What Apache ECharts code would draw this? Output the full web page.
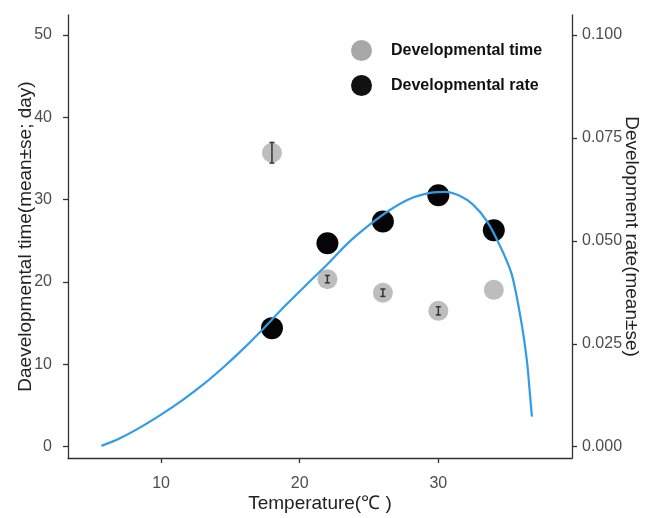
<!DOCTYPE html>
<html>
<head>
<meta charset="utf-8">
<script src="https://cdn.jsdelivr.net/npm/echarts@6/dist/echarts.min.js"></script>
<style>html,body{margin:0;padding:0;background:#fff}#c{width:655px;height:518px}</style>
</head>
<body>
<div id="c"></div>
<script>
// Data
var temps = [18, 22, 26, 30, 34];
var devTime = [35.7, 20.35, 18.7, 16.5, 19.05];   // days
var devTimeSE = [1.25, 0.45, 0.45, 0.5, 0];
var devRate = [0.0288, 0.0494, 0.0547, 0.0611, 0.0526];
var curveT = [5.7, 7.0, 8.5, 10.0, 11.5, 13.0, 14.5, 16.0, 17.5, 19.0, 20.5, 22.0, 23.5, 25.0, 26.5, 28.0, 29.5, 30.5, 31.5, 32.5, 33.5, 34.5, 35.3, 36.0, 36.4, 36.6, 36.75];
var curveR = [0.0002, 0.0020, 0.0047, 0.0078, 0.0112, 0.0150, 0.0193, 0.0240, 0.0291, 0.0344, 0.0394, 0.0443, 0.0495, 0.0538, 0.0575, 0.0603, 0.0617, 0.0619, 0.0610, 0.0588, 0.0548, 0.0484, 0.0418, 0.0300, 0.0205, 0.0130, 0.0073];
var xTicks = [10, 20, 30];
var yLeftTicks = [0, 10, 20, 30, 40, 50];
var yRightTicks = [0, 0.025, 0.05, 0.075, 0.1];

var chart = echarts.init(document.getElementById('c'), null, {renderer: 'canvas'});
var axisLineStyle = {color: '#333', width: 1.3};
var tickLabel = {color: '#4d4d4d', fontSize: 16, fontFamily: 'Liberation Sans, Arial, sans-serif'};
var nameStyle = {color: '#222', fontSize: 19, fontFamily: 'Liberation Sans, Arial, sans-serif'};

var errData = temps.map(function (t, i) { return [t, devTime[i], devTimeSE[i]]; });

chart.setOption({
  animation: false,
  backgroundColor: '#fff',
  grid: {left: 68, right: 83, top: 15, bottom: 60, containLabel: false},
  legend: {
    orient: 'vertical', left: 351, top: 40, padding: 0, itemWidth: 21, itemHeight: 21, itemGap: 14,
    data: [
      {name: 'Developmental time', icon: 'circle', itemStyle: {color: '#a8a8a8', opacity: 1}},
      {name: 'Developmental rate', icon: 'circle', itemStyle: {color: '#111', opacity: 1}}
    ],
    textStyle: {color: '#111', fontSize: 16, fontWeight: 'bold', fontFamily: 'Liberation Sans, Arial, sans-serif', padding: [0, 0, 0, 14]}
  },
  xAxis: {
    type: 'value', min: 3.29, max: 39.64,
    name: 'Temperature(℃ )', nameLocation: 'middle', nameGap: 36, nameMoveOverlap: false, nameTextStyle: nameStyle,
    axisLine: {show: true, onZero: false, lineStyle: axisLineStyle},
    axisTick: {show: true, customValues: xTicks, length: 5, lineStyle: axisLineStyle},
    axisLabel: {customValues: xTicks, margin: 18, ...tickLabel},
    splitLine: {show: false}
  },
  yAxis: [{
    type: 'value', min: -1.37, max: 52.43, position: 'left',
    name: 'Daevelopmental time(mean±se; day)', nameLocation: 'middle', nameGap: 33, nameMoveOverlap: false, nameTextStyle: nameStyle,
    axisLine: {show: true, onZero: false, lineStyle: axisLineStyle},
    axisTick: {show: true, customValues: yLeftTicks, length: 5, lineStyle: axisLineStyle},
    axisLabel: {customValues: yLeftTicks, margin: 16, ...tickLabel},
    splitLine: {show: false}
  }, {
    type: 'value', min: -0.00274, max: 0.10486, position: 'right',
    name: 'Development rate(mean±se)', nameLocation: 'middle', nameGap: 50, nameRotate: -90, nameMoveOverlap: false, nameTextStyle: nameStyle,
    axisLine: {show: true, onZero: false, lineStyle: axisLineStyle},
    axisTick: {show: true, customValues: yRightTicks, length: 5, lineStyle: axisLineStyle},
    axisLabel: {customValues: yRightTicks, margin: 10, formatter: function (v) { return v.toFixed(3); }, ...tickLabel},
    splitLine: {show: false}
  }],
  series: [{
    name: 'Developmental time', type: 'scatter', yAxisIndex: 0,
    data: temps.map(function (t, i) { return [t, devTime[i]]; }),
    symbol: 'circle', symbolSize: 20, itemStyle: {color: '#bdbdbd', opacity: 1}, z: 2
  }, {
    type: 'custom', yAxisIndex: 0, data: errData, z: 3,
    renderItem: function (params, api) {
      var x = api.value(0), m = api.value(1), s = api.value(2);
      if (!s) return {type: 'group', children: []};
      var top = api.coord([x, m + s]), bot = api.coord([x, m - s]);
      var w = 2.5;
      var st = {stroke: '#333', lineWidth: 1.5, fill: null};
      return {type: 'group', children: [
        {type: 'line', shape: {x1: top[0], y1: top[1], x2: bot[0], y2: bot[1]}, style: st},
        {type: 'line', shape: {x1: top[0] - w, y1: top[1], x2: top[0] + w, y2: top[1]}, style: st},
        {type: 'line', shape: {x1: bot[0] - w, y1: bot[1], x2: bot[0] + w, y2: bot[1]}, style: st}
      ]};
    }
  }, {
    name: 'Developmental rate', type: 'scatter', yAxisIndex: 1,
    data: temps.map(function (t, i) { return [t, devRate[i]]; }),
    symbol: 'circle', symbolSize: 22, itemStyle: {color: '#050505', opacity: 1}, z: 4
  }, {
    type: 'line', yAxisIndex: 1, z: 5,
    data: curveT.map(function (t, i) { return [t, curveR[i]]; }),
    showSymbol: false, smooth: 0.3,
    lineStyle: {color: '#339ce8', width: 2.2}
  }]
});
</script>
</body>
</html>
